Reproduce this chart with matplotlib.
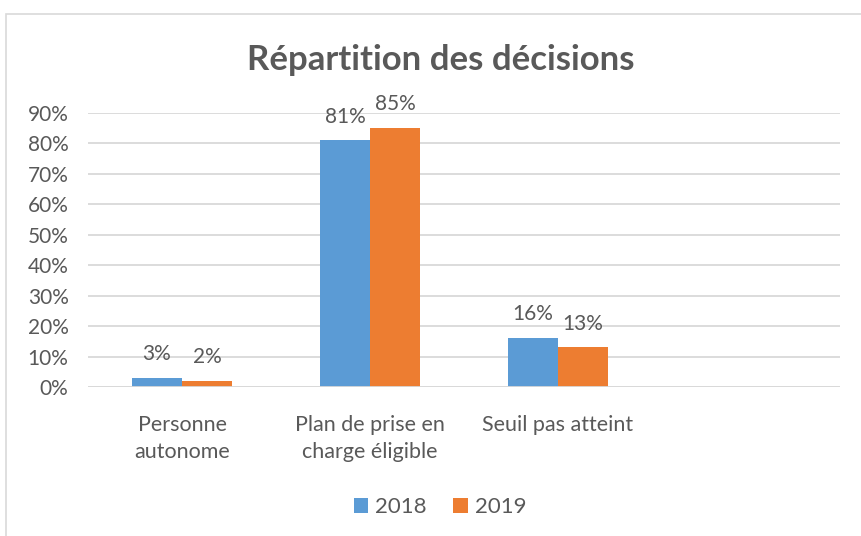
import matplotlib
matplotlib.use("Agg")
import matplotlib.pyplot as plt
from matplotlib.patches import Rectangle
import numpy as np

categories = ["Personne\nautonome", "Plan de prise en\ncharge éligible", "Seuil pas atteint"]
series_names = ["2018", "2019"]
values_2018 = [0.03, 0.81, 0.16]
values_2019 = [0.02, 0.85, 0.13]
labels_2018 = ["3%", "81%", "16%"]
labels_2019 = ["2%", "85%", "13%"]
yticks = [0.0, 0.1, 0.2, 0.3, 0.4, 0.5, 0.6, 0.7, 0.8, 0.9]
ytick_labels = ["0%", "10%", "20%", "30%", "40%", "50%", "60%", "70%", "80%", "90%"]

plt.rcParams['font.family'] = ['Lato', 'DejaVu Sans']
txt = "#595959"
blue = "#5B9BD5"
orange = "#ED7D31"
grid = "#D9D9D9"

W, H = 861, 536
fig = plt.figure(figsize=(W / 100, H / 100), dpi=100)
fig.patch.set_facecolor("white")

# chart frame
fig.patches.append(Rectangle((6 / W, -0.05), 1.1, 1 - 14 / H + 0.05, transform=fig.transFigure,
                             fill=False, edgecolor="#D9D9D9", linewidth=1.2))

ax = fig.add_axes([88 / W, 1 - 387 / H, (840 - 88) / W, (387 - 113) / H])
n_slots = 4
x = np.arange(len(categories))
bw = 50 / 188
ax.bar(x - bw / 2, values_2018, bw, color=blue, label=series_names[0], zorder=3)
ax.bar(x + bw / 2, values_2019, bw, color=orange, label=series_names[1], zorder=3)

for xi, v, l in zip(x - bw / 2, values_2018, labels_2018):
    ax.annotate(l, (xi, v), xytext=(0, 10), textcoords="offset points", ha="center", va="bottom",
                fontsize=15, color=txt, annotation_clip=False)
for xi, v, l in zip(x + bw / 2, values_2019, labels_2019):
    ax.annotate(l, (xi, v), xytext=(0, 10), textcoords="offset points", ha="center", va="bottom",
                fontsize=15, color=txt, annotation_clip=False)

ax.set_xlim(-0.5, n_slots - 0.5)
ax.set_ylim(0, 0.9)
ax.set_yticks(yticks)
ax.set_yticklabels(ytick_labels, fontsize=15, color=txt)
ax.set_xticks(x)
ax.set_xticklabels(categories, fontsize=15.5, color=txt, linespacing=1.45)
ax.tick_params(axis="both", length=0)
ax.tick_params(axis="y", pad=14)
ax.tick_params(axis="x", pad=20)
ax.grid(axis="y", color=grid, linewidth=1.3, zorder=0)
for s in ax.spines.values():
    s.set_visible(False)
ax.axhline(0, color=grid, linewidth=1.3, zorder=4)

fig.text(441 / W, 1 - 60 / H, "Répartition des décisions", ha="center", va="center",
         fontsize=25, fontweight="bold", color=txt)

leg = fig.legend(loc="center", bbox_to_anchor=(440 / W, 1 - 507 / H), ncol=2, frameon=False,
                 fontsize=16, handlelength=0.65, handleheight=0.65, handletextpad=0.3,
                 columnspacing=1.2, labelcolor=txt)

fig.savefig("out.png", dpi=100, facecolor="white")
